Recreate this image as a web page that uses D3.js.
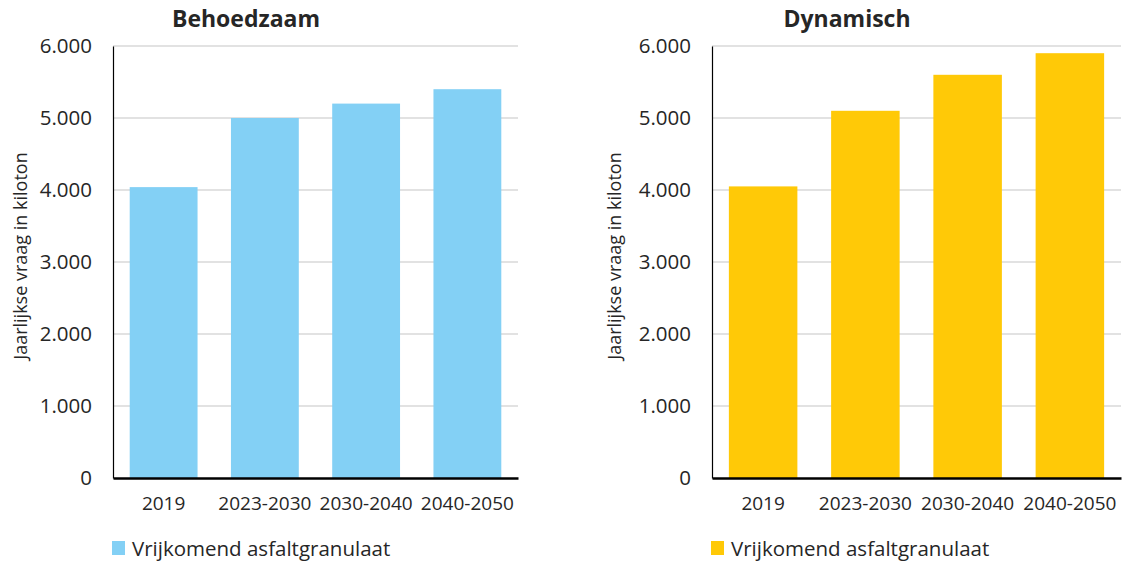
<!DOCTYPE html>
<html>
<head>
<meta charset="utf-8">
<script src="https://cdn.jsdelivr.net/npm/d3@7"></script>
<style>
  body { margin: 0; background: #fff; }
  svg text { font-family: "Open Sans", "Noto Sans", sans-serif; fill: #262626; }
</style>
</head>
<body>
<div id="chart"></div>
<script>
var categories = ["2019", "2023-2030", "2030-2040", "2040-2050"];
var behoedzaam = [4040, 5000, 5200, 5400];
var dynamisch = [4050, 5100, 5600, 5900];
var yTicks = [0, 1000, 2000, 3000, 4000, 5000, 6000];
var titles = ["Behoedzaam", "Dynamisch"];
var legendLabel = "Vrijkomend asfaltgranulaat";
var yLabel = "Jaarlijkse vraag in kiloton";

var width = 1124, height = 562,
    plot_top = 46, plot_bottom = 478;

var panels = [
  { title: titles[0], values: behoedzaam, color: "#83D0F5", left: 113, right: 518, titleX: 246, yLabelX: 21 },
  { title: titles[1], values: dynamisch, color: "#FFC907", left: 712, right: 1121, titleX: 847, yLabelX: 615 }
];

var svg = d3.select("#chart").append("svg")
  .attr("width", width)
  .attr("height", height);

var fmt = function (v) { return d3.format(",")(v).replace(/,/g, "."); };

panels.forEach(function (p) {
  var g = svg.append("g");

  var x = d3.scaleBand()
    .domain(categories)
    .range([p.left, p.right])
    .paddingInner(0.33)
    .paddingOuter(0.165);

  var y = d3.scaleLinear()
    .domain([0, 6000])
    .range([plot_bottom, plot_top]);

  // gridlines
  g.selectAll("line.grid")
    .data(yTicks.filter(function (d) { return d > 0; }))
    .enter().append("line")
    .attr("class", "grid")
    .attr("x1", p.left).attr("x2", p.right)
    .attr("y1", function (d) { return y(d); })
    .attr("y2", function (d) { return y(d); })
    .attr("stroke", "#d9d9d9")
    .attr("stroke-width", 1.5);

  // bars
  g.selectAll("rect.bar")
    .data(p.values)
    .enter().append("rect")
    .attr("class", "bar")
    .attr("x", function (d, i) { return x(categories[i]); })
    .attr("width", x.bandwidth())
    .attr("y", function (d) { return y(d); })
    .attr("height", function (d) { return y(0) - y(d); })
    .attr("fill", p.color);

  // y axis
  var yAxis = g.append("g")
    .attr("transform", "translate(" + p.left + ",0)")
    .call(d3.axisLeft(y).tickValues(yTicks).tickSize(0).tickPadding(21).tickFormat(fmt));
  yAxis.select(".domain").attr("stroke", "#000").attr("stroke-width", 1.2);
  yAxis.selectAll("text").style("font-size", "20.5px").attr("fill", "#262626");

  // x axis
  var xAxis = g.append("g")
    .attr("transform", "translate(0," + plot_bottom + ")")
    .call(d3.axisBottom(x).tickSize(0).tickPadding(19));
  xAxis.select(".domain").attr("stroke", "#000").attr("stroke-width", 2.5);
  xAxis.selectAll("text").style("font-size", "19px").attr("fill", "#262626");

  // title
  g.append("text")
    .attr("x", p.titleX)
    .attr("y", 27)
    .attr("text-anchor", "middle")
    .style("font-size", "23px")
    .style("font-weight", "bold")
    .attr("fill", "#000")
    .text(p.title);

  // y label
  g.append("text")
    .attr("transform", "translate(" + p.yLabelX + "," + ((plot_top + plot_bottom) / 2 - 6) + ") rotate(-90)")
    .attr("text-anchor", "middle")
    .attr("dy", "0.35em")
    .style("font-size", "18px")
    .attr("fill", "#000")
    .text(yLabel);

  // legend
  g.append("rect")
    .attr("x", p.left - 1)
    .attr("y", 541)
    .attr("width", 13)
    .attr("height", 14)
    .attr("fill", p.color);
  g.append("text")
    .attr("x", p.left + 19)
    .attr("y", 556)
    .style("font-size", "20.5px")
    .text(legendLabel);
});
</script>
</body>
</html>
